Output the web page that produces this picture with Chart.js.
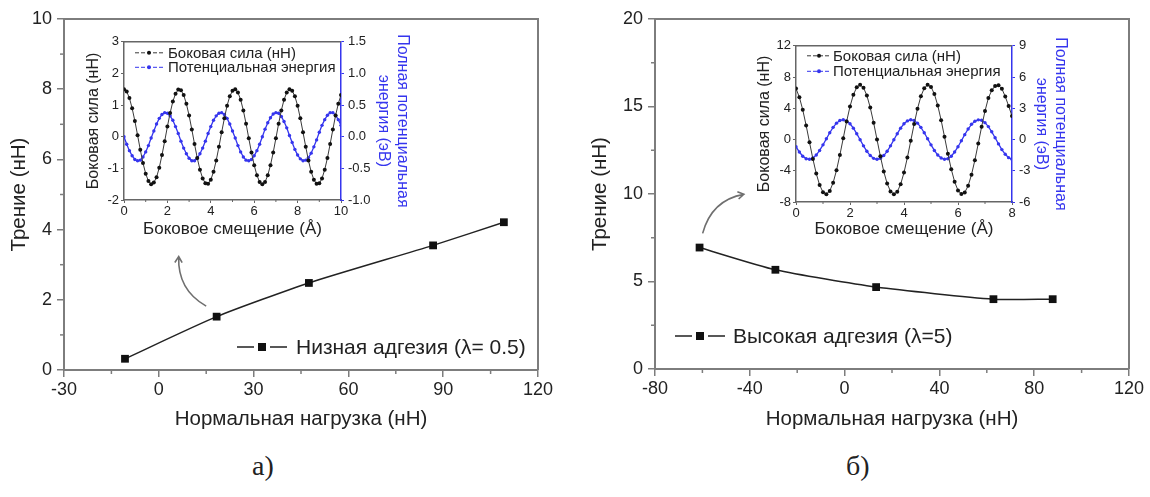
<!DOCTYPE html>
<html lang="ru">
<head>
<meta charset="utf-8">
<title>Трение и нормальная нагрузка</title>
<script src="https://cdn.jsdelivr.net/npm/chart.js@4.4.1/dist/chart.umd.min.js"></script>
<style>
  body { margin: 0; background: #fff; }
  #page { position: relative; width: 1150px; height: 497px; overflow: hidden; background: #fff; }
  canvas { position: absolute; }
  .cap { position: absolute; top: 450px; font: 28px "Liberation Serif", "Times New Roman", serif; color: #222; }
</style>
</head>
<body>
<div id="page">
  <canvas id="mainA" width="560" height="445" style="left:0;top:0"></canvas>
  <canvas id="insetA" width="336" height="212" style="left:84px;top:30px"></canvas>
  <canvas id="mainB" width="570" height="445" style="left:580px;top:0"></canvas>
  <canvas id="insetB" width="335" height="208" style="left:745px;top:34px"></canvas>
  <div class="cap" style="left:252px">а)</div>
  <div class="cap" style="left:846px">б)</div>
</div>
<script>
// main plots: friction vs normal load
const loadA = [-10.7, 18.3, 47.5, 86.8, 109.2];
const frictionA = [0.32, 1.52, 2.48, 3.55, 4.21];
const loadB = [-61.2, -29.2, 13.3, 62.8, 87.8];
const frictionB = [6.94, 5.67, 4.68, 3.99, 3.99];

// insets: lateral force (nN) and potential energy (eV), sampled every 0.125 A
const shiftStep = 0.125;
const forceA = [1.50, 1.43, 1.22, 0.90, 0.50, 0.05, -0.41, -0.83, -1.17, -1.40,
  -1.50, -1.45, -1.28, -0.98, -0.58, -0.14, 0.32, 0.75, 1.11, 1.36,
  1.49, 1.47, 1.32, 1.04, 0.67, 0.23, -0.23, -0.67, -1.04, -1.32,
  -1.47, -1.49, -1.36, -1.11, -0.75, -0.32, 0.14, 0.58, 0.98, 1.28,
  1.45, 1.50, 1.40, 1.17, 0.83, 0.41, -0.05, -0.50, -0.90, -1.22,
  -1.43, -1.50, -1.43, -1.22, -0.90, -0.50, -0.05, 0.41, 0.83, 1.17,
  1.40, 1.50, 1.45, 1.28, 0.98, 0.58, 0.14, -0.32, -0.75, -1.11,
  -1.36, -1.49, -1.47, -1.32, -1.04, -0.67, -0.23, 0.23, 0.67, 1.04,
  1.32];
const energyA = [0.00, -0.12, -0.22, -0.30, -0.36, -0.38, -0.37, -0.32, -0.24, -0.14,
  -0.02, 0.09, 0.20, 0.29, 0.35, 0.38, 0.37, 0.33, 0.26, 0.16,
  0.05, -0.07, -0.18, -0.27, -0.34, -0.38, -0.38, -0.34, -0.27, -0.18,
  -0.07, 0.05, 0.16, 0.26, 0.33, 0.37, 0.38, 0.35, 0.29, 0.20,
  0.09, -0.02, -0.14, -0.24, -0.32, -0.37, -0.38, -0.36, -0.30, -0.22,
  -0.12, 0.00, 0.12, 0.22, 0.30, 0.36, 0.38, 0.37, 0.32, 0.24,
  0.14, 0.02, -0.09, -0.20, -0.29, -0.35, -0.38, -0.37, -0.33, -0.26,
  -0.16, -0.05, 0.07, 0.18, 0.27, 0.34, 0.38, 0.38, 0.34, 0.27,
  0.18];
const forceB = [6.52, 5.42, 3.80, 1.81, -0.35, -2.48, -4.36, -5.83, -6.74, -7.00,
  -6.58, -5.53, -3.94, -1.98, 0.17, 2.31, 4.23, 5.73, 6.69, 7.00,
  6.64, 5.63, 4.09, 2.15, 0.00, -2.15, -4.09, -5.63, -6.64, -7.00,
  -6.69, -5.73, -4.23, -2.31, -0.17, 1.98, 3.94, 5.53, 6.58, 7.00,
  6.74, 5.83, 4.36, 2.48, 0.35, -1.81, -3.80, -5.42, -6.52, -6.99,
  -6.78, -5.93, -4.50, -2.64, -0.52, 1.64, 3.65, 5.31, 6.30, 6.85,
  6.95, 6.50, 5.50, 4.30, 3.00];
const energyB = [-0.69, -1.20, -1.60, -1.84, -1.90, -1.78, -1.49, -1.05, -0.51, 0.07,
  0.65, 1.17, 1.57, 1.82, 1.90, 1.79, 1.51, 1.09, 0.56, -0.02,
  -0.61, -1.13, -1.54, -1.81, -1.90, -1.81, -1.54, -1.13, -0.61, -0.02,
  0.56, 1.09, 1.51, 1.79, 1.90, 1.82, 1.57, 1.17, 0.65, 0.07,
  -0.51, -1.05, -1.49, -1.78, -1.90, -1.84, -1.60, -1.20, -0.69, -0.12,
  0.47, 1.01, 1.46, 1.76, 1.89, 1.85, 1.62, 1.24, 0.74, 0.17,
  -0.42, -0.97, -1.42, -1.74, -1.89];

const FONT = "'Liberation Sans', Arial, sans-serif";
const AXIS = '#7d7d7d';
const TXT = '#222';
const BLUE = '#3535ee';

function pts(xs, ys) { return xs.map(function(x, i) { return { x: x, y: ys[i] } }) }
function onGrid(ys, step) { return ys.map(function(y, i) { return { x: i * step, y: y } }) }

// top/right frame lines
const frame = {
  id: 'frame',
  afterDraw(chart, args, o) {
    if (!o.color) return;
    const a = chart.chartArea, ctx = chart.ctx;
    ctx.save();
    ctx.strokeStyle = o.color;
    ctx.lineWidth = o.width;
    ctx.beginPath();
    ctx.moveTo(a.left, a.top);
    ctx.lineTo(a.right, a.top);
    if (o.right) ctx.lineTo(a.right, a.bottom);
    ctx.stroke();
    ctx.restore();
  }
};

const minorTicks = {
  id: 'minorTicks',
  afterDraw(chart, args, o) {
    if (!o.list) return;
    const ctx = chart.ctx;
    ctx.save();
    ctx.strokeStyle = o.color;
    ctx.lineWidth = o.width;
    o.list.forEach(function(t) {
      const s = chart.scales[t.axis];
      for (let v = s.min + t.step; v < s.max; v += 2 * t.step) {
        const p = s.getPixelForValue(v);
        ctx.beginPath();
        if (s.isHorizontal()) { ctx.moveTo(p, s.top); ctx.lineTo(p, s.top + t.len) }
        else if (s.position === 'left') { ctx.moveTo(s.right, p); ctx.lineTo(s.right - t.len, p) }
        else { ctx.moveTo(s.left, p); ctx.lineTo(s.left + t.len, p) }
        ctx.stroke();
      }
    });
    ctx.restore();
  }
};

const insideLegend = {
  id: 'insideLegend',
  afterDraw(chart, args, o) {
    if (!o.font) return;
    const ctx = chart.ctx, a = chart.chartArea;
    ctx.save();
    ctx.font = o.font;
    ctx.textBaseline = 'middle';
    chart.data.datasets.forEach(function(ds, i) {
      const x = a.left + o.x, y = a.top + o.y + i * o.rowH;
      const mx = x + o.lineLen / 2;
      ctx.strokeStyle = ds.borderColor;
      ctx.lineWidth = o.lineWidth;
      ctx.setLineDash(o.dash);
      ctx.beginPath();
      if (o.marker === 'rect') {
        ctx.moveTo(x, y); ctx.lineTo(mx - o.size, y);
        ctx.moveTo(mx + o.size, y); ctx.lineTo(x + o.lineLen, y);
      } else {
        ctx.moveTo(x, y); ctx.lineTo(x + o.lineLen, y);
      }
      ctx.stroke();
      ctx.setLineDash([]);
      ctx.fillStyle = ds.pointBackgroundColor;
      if (o.marker === 'rect') ctx.fillRect(mx - o.size / 2, y - o.size / 2, o.size, o.size);
      else { ctx.beginPath(); ctx.arc(mx, y, o.size / 2, 0, Math.PI * 2); ctx.fill() }
      ctx.fillStyle = TXT;
      ctx.fillText(ds.label, x + o.textX, y + 1);
    });
    ctx.restore();
  }
};

const curvedArrow = {
  id: 'curvedArrow',
  afterDraw(chart, args, o) {
    if (!o.from) return;
    const sx = chart.scales.x, sy = chart.scales.y, ctx = chart.ctx;
    function P(p) { return [sx.getPixelForValue(p[0]), sy.getPixelForValue(p[1])] }
    const s = P(o.from), c = P(o.ctrl), e = P(o.to);
    const ang = Math.atan2(e[1] - c[1], e[0] - c[0]);
    ctx.save();
    ctx.strokeStyle = '#6f6f6f';
    ctx.lineWidth = 1.6;
    ctx.beginPath();
    ctx.moveTo(s[0], s[1]);
    ctx.quadraticCurveTo(c[0], c[1], e[0], e[1]);
    ctx.moveTo(e[0] - 7 * Math.cos(ang - 0.55), e[1] - 7 * Math.sin(ang - 0.55));
    ctx.lineTo(e[0], e[1]);
    ctx.lineTo(e[0] - 7 * Math.cos(ang + 0.55), e[1] - 7 * Math.sin(ang + 0.55));
    ctx.stroke();
    ctx.restore();
  }
};

Chart.register(frame, minorTicks, insideLegend, curvedArrow);

function mainChart(id, xs, ys, label, g) {
  return new Chart(document.getElementById(id), {
    type: 'line',
    data: {
      datasets: [{
        label: label,
        data: pts(xs, ys),
        borderColor: '#222',
        borderWidth: 1.5,
        tension: 0.2,
        pointStyle: 'rect',
        pointRadius: 5.5,
        pointBackgroundColor: '#111',
        pointBorderColor: '#111',
        pointBorderWidth: 0
      }]
    },
    options: {
      responsive: false,
      animation: false,
      layout: { padding: { top: 19, right: g.padR, left: 0, bottom: 0 } },
      plugins: {
        legend: { display: false },
        tooltip: { enabled: false },
        frame: { color: AXIS, width: 2, right: true },
        minorTicks: { color: AXIS, width: 1.5, list: [
          { axis: 'x', step: g.x[2] / 2, len: 4 },
          { axis: 'y', step: g.y[2] / 2, len: 4 }
        ] },
        insideLegend: { font: '21px ' + FONT, x: g.leg[0], y: g.leg[1], rowH: 20, lineLen: 50,
          textX: g.leg[2], lineWidth: 1.5, dash: [], marker: 'rect', size: 8 },
        curvedArrow: g.arrow
      },
      scales: {
        x: {
          type: 'linear', min: g.x[0], max: g.x[1],
          afterFit: function(s) { s.height = 445 - g.bottom },
          ticks: { stepSize: g.x[2], color: TXT, font: { family: FONT, size: 18 }, padding: 2, maxRotation: 0, autoSkip: false },
          grid: { drawOnChartArea: false, tickLength: 7, color: AXIS, lineWidth: 1.5 },
          border: { color: AXIS, width: 2 },
          title: { display: true, text: 'Нормальная нагрузка (нН)', color: TXT, font: { family: FONT, size: 20.5 }, padding: { bottom: 13 } }
        },
        y: {
          type: 'linear', min: g.y[0], max: g.y[1],
          afterFit: function(s) { s.width = g.left },
          ticks: { stepSize: g.y[2], color: TXT, font: { family: FONT, size: 18 }, padding: 5 },
          grid: { drawOnChartArea: false, tickLength: 7, color: AXIS, lineWidth: 1.5 },
          border: { color: AXIS, width: 2 },
          title: { display: true, text: 'Трение (нН)', color: TXT, font: { family: FONT, size: 20.5 }, padding: { top: g.titlePad } }
        }
      }
    }
  });
}

function insetChart(id, force, energy, g) {
  return new Chart(document.getElementById(id), {
    type: 'line',
    data: {
      datasets: [
        { label: 'Боковая сила (нН)', data: onGrid(force, shiftStep), yAxisID: 'y',
          borderColor: '#3a3a3a', borderWidth: 1, pointRadius: 2, pointBackgroundColor: '#111',
          pointBorderColor: '#111', pointBorderWidth: 0, tension: 0 },
        { label: 'Потенциальная энергия', data: onGrid(energy, shiftStep), yAxisID: 'y1',
          borderColor: BLUE, borderWidth: 1.3, pointRadius: 1.7, pointBackgroundColor: BLUE,
          pointBorderColor: BLUE, pointBorderWidth: 0, tension: 0 }
      ]
    },
    options: {
      responsive: false,
      animation: false,
      layout: { padding: { top: 9, right: 0, left: 0, bottom: 0 } },
      plugins: {
        legend: { display: false },
        tooltip: { enabled: false },
        frame: { color: '#666', width: 1.5, right: false },
        minorTicks: { color: '#666', width: 1, list: [{ axis: 'x', step: 1, len: 2 }] },
        insideLegend: { font: '15px ' + FONT, x: g.leg[0], y: g.leg[1], rowH: g.leg[2], lineLen: g.leg[3],
          textX: g.leg[4], lineWidth: 1, dash: [4, 2], marker: 'dot', size: 4 }
      },
      scales: {
        x: {
          type: 'linear', min: 0, max: g.x,
          afterFit: function(s) { s.height = g.h - g.bottom },
          ticks: { stepSize: 2, color: TXT, font: { family: FONT, size: 13 }, padding: 1, maxRotation: 0, autoSkip: false },
          grid: { drawOnChartArea: false, tickLength: 3, color: '#666', lineWidth: 1 },
          border: { color: '#666', width: 1.5 },
          title: { display: true, text: 'Боковое смещение (Å)', color: TXT, font: { family: FONT, size: 17 }, padding: { bottom: 2 } }
        },
        y: {
          position: 'left', min: g.yl[0], max: g.yl[1],
          afterFit: function(s) { s.width = g.left },
          ticks: { stepSize: g.yl[2], color: TXT, font: { family: FONT, size: 13 }, padding: 2 },
          grid: { drawOnChartArea: false, tickLength: 3, color: '#666', lineWidth: 1 },
          border: { color: '#666', width: 1.5 },
          title: { display: true, text: 'Боковая сила (нН)', color: TXT, font: { family: FONT, size: 16 }, padding: { top: g.lPad } }
        },
        y1: {
          position: 'right', min: g.yr[0], max: g.yr[1],
          afterFit: function(s) { s.width = g.right },
          ticks: { stepSize: g.yr[2], color: TXT, font: { family: FONT, size: 13 }, padding: 4,
            callback: function(v) { return g.fixed ? v.toFixed(1) : v } },
          grid: { drawOnChartArea: false, tickLength: 3, color: BLUE, lineWidth: 1 },
          border: { color: BLUE, width: 1.5 },
          title: { display: true, text: ['Полная потенциальная', 'энергия (эВ)'], color: BLUE,
            font: { family: FONT, size: 16, lineHeight: 1.2 }, padding: { top: g.rPad } }
        }
      }
    }
  });
}

mainChart('mainA', loadA, frictionA, 'Низная адгезия (λ= 0.5)', {
  x: [-30, 120, 30], y: [0, 10, 2], left: 64, padR: 22, bottom: 370, titlePad: 7,
  leg: [173, 328, 59],
  arrow: { from: [15.0, 1.82], ctrl: [5.9, 2.28], to: [6.3, 3.23] }
});
mainChart('mainB', loadB, frictionB, 'Высокая адгезия (λ=5)', {
  x: [-80, 120, 40], y: [0, 20, 5], left: 75, padR: 21, bottom: 369, titlePad: 8,
  leg: [20, 317, 58],
  arrow: { from: [-59.9, 7.75], ctrl: [-56.1, 9.66], to: [-42.5, 9.98] }
});
insetChart('insetA', forceA, energyA, {
  x: 10, yl: [-2, 3, 1], yr: [-1, 1.5, 0.5], fixed: true,
  h: 212, bottom: 170, left: 40, right: 79, lPad: 0, rPad: 8,
  leg: [11, 11, 14.5, 28, 33]
});
insetChart('insetB', forceB, energyB, {
  x: 8, yl: [-8, 12, 4], yr: [-6, 9, 3], fixed: false,
  h: 208, bottom: 168, left: 51, right: 68, lPad: 10, rPad: 10,
  leg: [11, 10, 15.5, 24, 26]
});
</script>
</body>
</html>
